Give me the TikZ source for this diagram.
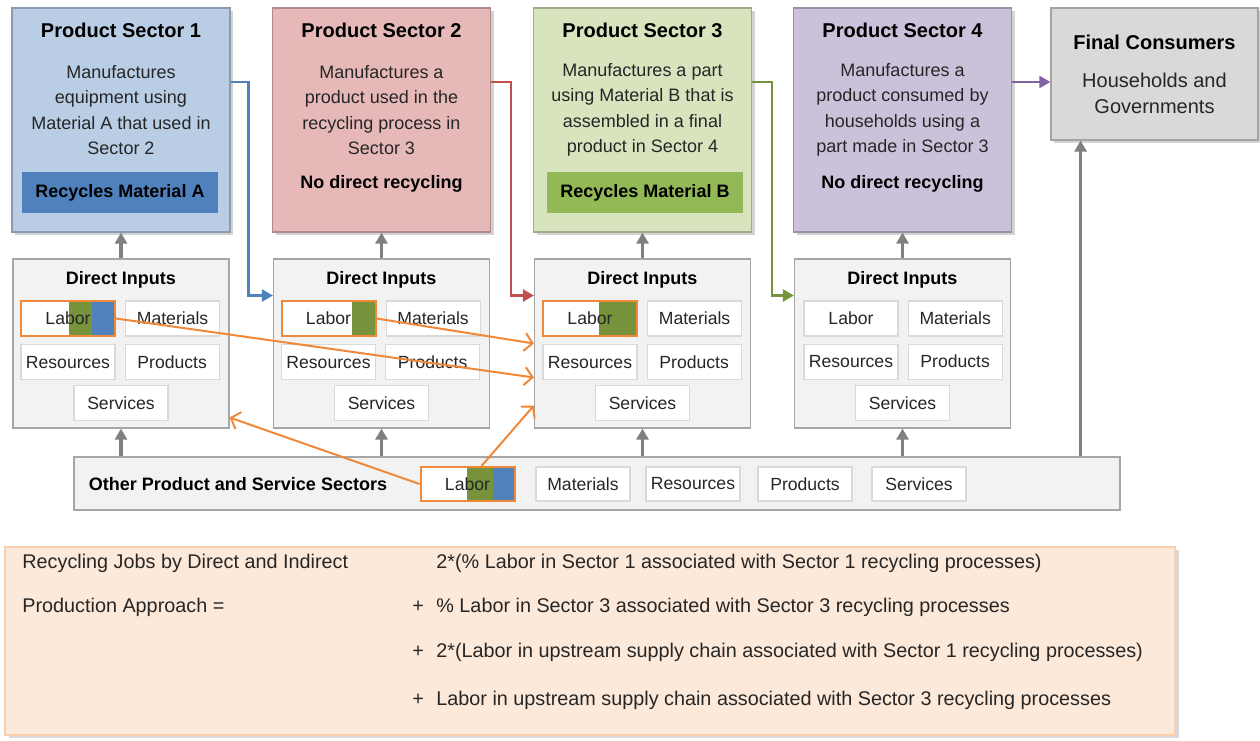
\documentclass[tikz,border=0pt]{standalone}
\usepackage{fontspec}
\setmainfont{Liberation Sans}
\usetikzlibrary{arrows.meta,positioning,shadows}

\definecolor{secA}{HTML}{B9CDE5}
\definecolor{secB}{HTML}{E6B9B8}
\definecolor{secC}{HTML}{D7E4BD}
\definecolor{secD}{HTML}{CCC1DA}
\definecolor{secE}{HTML}{D9D9D9}
\definecolor{blu}{HTML}{4F81BD}
\definecolor{red}{HTML}{C0504D}
\definecolor{grn}{HTML}{77933C}
\definecolor{recB}{HTML}{93B956}
\definecolor{pur}{HTML}{8064A2}
\definecolor{orng}{HTML}{F0883A}
\definecolor{garr}{HTML}{808080}
\definecolor{inbg}{HTML}{F2F2F2}
\definecolor{peach}{HTML}{FDE9D9}

\begin{document}
\begin{tikzpicture}[x=0.5pt, y=-0.5pt,
    sector/.style = {fill=#1, draw=#1!75!black, line width=0.6pt, minimum width=109pt, minimum height=112pt,
                     drop shadow={opacity=0.35, shadow xshift=1.5pt, shadow yshift=-1.5pt}},
    ttl/.style = {font=\fontsize{10}{12}\selectfont\bfseries},
    bld/.style = {font=\fontsize{9}{11}\selectfont\bfseries},
    desc/.style = {align=center, text=black!85, font=\fontsize{9}{12.7}\selectfont},
    rec/.style = {fill=#1, minimum width=98pt, minimum height=20.5pt, font=\fontsize{9}{11}\selectfont\bfseries},
    inbox/.style = {fill=inbg, draw=black!35, line width=0.6pt, minimum width=108pt, minimum height=84.5pt},
    cell/.style = {fill=white, draw=black!15, line width=0.6pt, minimum width=47pt, minimum height=17.5pt,
                   inner sep=0.5pt, text=black!85, font=\fontsize{8.8}{11}\selectfont},
    lab/.style = {draw=orng, line width=1pt},
    gb/.style 2 args = {path picture={
        \fill[grn] ([xshift=-#1-#2]path picture bounding box.north east) rectangle ([xshift=-#2]path picture bounding box.south east);
        \fill[blu] ([xshift=-#2]path picture bounding box.north east) rectangle (path picture bounding box.south east);}},
    garrow/.style = {draw=garr, line width=1.6pt, -{Triangle[length=5.5pt,width=6pt]}},
    carrow/.style = {draw=#1, line width=1.2pt, -{Triangle[length=5.5pt,width=6pt]}},
    oarrow/.style = {draw=orng, line width=1pt, -{Straight Barb[length=4pt,width=9pt]}},
    ftxt/.style = {anchor=west, inner sep=0pt, text=black!85, font=\fontsize{9.9}{12}\selectfont}]
    \useasboundingbox (0,0) rectangle (1260,740);

    % product sectors
    \node[sector=secA] (s1) at (121,120) {};
    \node[sector=secB] (s2) at (381.5,120) {};
    \node[sector=secC] (s3) at (642.5,120) {};
    \node[sector=secD] (s4) at (902.5,120) {};
    \node[sector=secE, minimum width=103.5pt, minimum height=66pt] (fc) at (1154.5,74) {};

    \node[ttl] (t1) at (121,30) {Product Sector 1};
    \node[desc] (d1) at (121,110) {Manufactures\\equipment using\\Material A that used in\\Sector 2};
    \node[rec=blu] (r1) at (120,192.5) {Recycles Material A};

    \node[ttl] (t2) at (381.5,30) {Product Sector 2};
    \node[desc] (d2) at (381.5,110) {Manufactures a\\product used in the\\recycling process in\\Sector 3};
    \node[bld] (n2) at (381.5,184) {No direct recycling};

    \node[ttl] (t3) at (642.5,30) {Product Sector 3};
    \node[desc] (d3) at (642.5,110) {Manufactures a part\\using Material B that is\\assembled in a final\\product in Sector 4};
    \node[rec=recB] (r3) at (645,192.5) {Recycles Material B};

    \node[ttl] (t4) at (902.5,30) {Product Sector 4};
    \node[desc] (d4) at (902.5,110) {Manufactures a\\product consumed by\\households using a\\part made in Sector 3};
    \node[bld] (n4) at (902.5,184) {No direct recycling};

    \node[ttl] (t5) at (1154.5,42) {Final Consumers};
    \node[desc, font=\fontsize{10}{13}\selectfont] (d5) at (1154.5,93) {Households and\\Governments};

    % direct inputs
    \node[inbox] (di1) at (121,343.5) {};
    \node[bld] (h1) at (121,280) {Direct Inputs};
    \node[cell, lab, gb={11.5pt}{11.5pt}] (l1) at (68,318.5) {Labor};
    \node[cell] (m1) [right=4.5pt of l1] {Materials};
    \node[cell] (rs1) [below=3.5pt of l1] {Resources};
    \node[cell] (p1) [right=4.5pt of rs1] {Products};
    \node[cell] (sv1) at (121,403) {Services};

    \node[inbox] (di2) at (381.5,343.5) {};
    \node[bld] (h2) at (381.5,280) {Direct Inputs};
    \node[cell, lab, gb={12pt}{0pt}] (l2) at (328.5,318.5) {Labor};
    \node[cell] (m2) [right=4.5pt of l2] {Materials};
    \node[cell] (rs2) [below=3.5pt of l2] {Resources};
    \node[cell] (p2) [right=4.5pt of rs2] {Products};
    \node[cell] (sv2) at (381.5,403) {Services};

    \node[inbox] (di3) at (642.5,343.5) {};
    \node[bld] (h3) at (642.5,280) {Direct Inputs};
    \node[cell, lab, gb={19pt}{0pt}] (l3) at (590,318.5) {Labor};
    \node[cell] (m3) [right=4.5pt of l3] {Materials};
    \node[cell] (rs3) [below=3.5pt of l3] {Resources};
    \node[cell] (p3) [right=4.5pt of rs3] {Products};
    \node[cell] (sv3) at (642.5,403) {Services};

    \node[inbox] (di4) at (902.5,343.5) {};
    \node[bld] (h4) at (902.5,280) {Direct Inputs};
    \node[cell] (l4) at (851,318.5) {Labor};
    \node[cell] (m4) [right=4.5pt of l4] {Materials};
    \node[cell] (rs4) [below=3.5pt of l4] {Resources};
    \node[cell] (p4) [right=4.5pt of rs4] {Products};
    \node[cell] (sv4) at (902.5,403) {Services};

    % other sectors
    \node[inbox, minimum width=523pt, minimum height=26.5pt] (oth) at (597,483.5) {};
    \node[bld] (ho) at (238,484) {Other Product and Service Sectors};
    \node[cell, lab, minimum height=17pt, gb={13pt}{11pt}] (lo) at (467.5,484) {Labor};
    \node[cell, minimum height=17pt] (mo) at (583,484) {Materials};
    \node[cell, minimum height=17pt] (rso) at (693,484) {Resources};
    \node[cell, minimum height=17pt] (po) at (805,484) {Products};
    \node[cell, minimum height=17pt] (svo) at (919,484) {Services};

    % grey flows
    \draw[garrow] (di1) -- (s1);
    \draw[garrow] (di2) -- (s2);
    \draw[garrow] (di3) -- (s3);
    \draw[garrow] (di4) -- (s4);
    \draw[garrow] (oth.north -| di1) -- (di1);
    \draw[garrow] (oth.north -| di2) -- (di2);
    \draw[garrow] (oth.north -| di3) -- (di3);
    \draw[garrow] (oth.north -| di4) -- (di4);
    \draw[garrow] ([xshift=-20pt]oth.north east) -- ([xshift=-20pt]oth.north east |- fc.south);

    % sector to sector
    \draw[carrow=blu] ([yshift=19pt]s1.east) -- ++(18,0) |- ([yshift=24pt]di2.west);
    \draw[carrow=red] ([yshift=19pt]s2.east) -- ++(20,0) |- ([yshift=24pt]di3.west);
    \draw[carrow=grn] ([yshift=19pt]s3.east) -- ++(20,0) |- ([yshift=24pt]di4.west);
    \draw[carrow=pur] ([yshift=19pt]s4.east) -- ([yshift=19pt]s4.east -| fc.west);

    % labor flows
    \draw[oarrow] (l1.east) -- ([yshift=-17pt]di3.west);
    \draw[oarrow] (l2.east) -- (di3.west);
    \draw[oarrow] (lo.west) -- ([yshift=-37pt]di1.east);
    \draw[oarrow] ([xshift=7pt]lo.north) -- ([yshift=-31pt]di3.west);

    % formula
    \node[fill=peach, draw=orng!40, line width=0.6pt, minimum width=585pt, minimum height=94pt,
          drop shadow={opacity=0.3, shadow xshift=2pt, shadow yshift=-1.5pt}] (fm) at (590,641) {};
    \node[ftxt] (fa) at (22,563) {Recycling Jobs by Direct and Indirect};
    \node[ftxt] (fb) at (22,607) {Production Approach =};
    \node[ftxt] (e1) at (436,563) {2*(\% Labor in Sector 1 associated with Sector 1 recycling processes)};
    \node[ftxt] (e2) at (436,607) {\% Labor in Sector 3 associated with Sector 3 recycling processes};
    \node[ftxt] (e3) at (436,652) {2*(Labor in upstream supply chain associated with Sector 1 recycling processes)};
    \node[ftxt] (e4) at (436,700) {Labor in upstream supply chain associated with Sector 3 recycling processes};
    \node[ftxt] (pl2) at (412,607) {+};
    \node[ftxt] (pl3) at (412,652) {+};
    \node[ftxt] (pl4) at (412,700) {+};
\end{tikzpicture}
\end{document}
